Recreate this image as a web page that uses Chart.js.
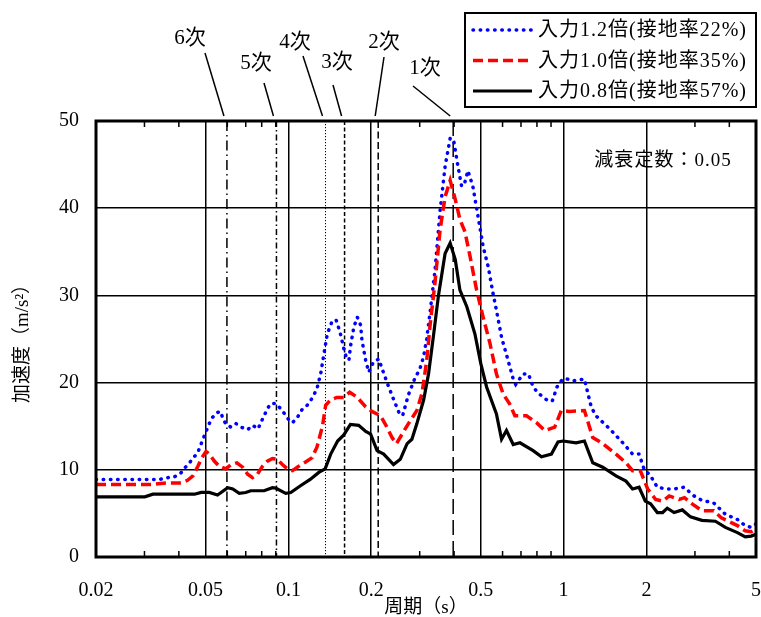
<!DOCTYPE html>
<html lang="ja">
<head>
<meta charset="utf-8">
<title>加速度応答スペクトル</title>
<script src="https://cdn.jsdelivr.net/npm/chart.js@4.4.1/dist/chart.umd.min.js"></script>
<style>
  html, body { margin: 0; padding: 0; background: #fff; }
  #wrap { width: 761px; height: 617px; }
</style>
</head>
<body>
<div id="wrap"><canvas id="spectrumChart"></canvas></div>
<script>
// 入力1.2倍
const periods12 = [0.02, 0.034, 0.0365, 0.0386, 0.0406, 0.042, 0.0437, 0.0469, 0.0489, 0.0507, 0.0524, 0.0546, 0.0566, 0.0577, 0.0593, 0.0618, 0.0645, 0.0672, 0.0711, 0.0741, 0.0776, 0.0794, 0.0816, 0.0839, 0.0863, 0.0899, 0.0932, 0.0964, 0.1, 0.1035, 0.1078, 0.1126, 0.117, 0.122, 0.127, 0.131, 0.135, 0.1385, 0.144, 0.149, 0.154, 0.159, 0.163, 0.166, 0.168, 0.173, 0.178, 0.183, 0.185, 0.191, 0.196, 0.204, 0.213, 0.219, 0.229, 0.241, 0.252, 0.26, 0.273, 0.289, 0.3, 0.31, 0.318, 0.327, 0.341, 0.356, 0.371, 0.387, 0.398, 0.41, 0.426, 0.438, 0.449, 0.468, 0.489, 0.51, 0.532, 0.552, 0.57, 0.595, 0.629, 0.656, 0.67, 0.713, 0.745, 0.775, 0.808, 0.878, 0.91, 0.946, 0.981, 1.01, 1.08, 1.19, 1.26, 1.31, 1.47, 1.64, 1.78, 1.88, 1.96, 2.07, 2.19, 2.36, 2.52, 2.74, 2.98, 3.18, 3.51, 3.87, 4.28, 4.57, 4.8, 5.0];
const acc12 = [8.9, 8.9, 9.1, 9.2, 9.6, 10.2, 10.8, 12.0, 13.5, 14.7, 15.8, 16.5, 16.7, 16.0, 15.2, 14.9, 15.3, 14.9, 14.6, 15.1, 14.7, 15.4, 16.2, 17.0, 17.6, 17.6, 17.1, 16.5, 15.8, 15.4, 16.0, 17.0, 17.4, 18.2, 19.3, 21.0, 23.5, 25.6, 27.0, 27.2, 25.8, 23.9, 22.7, 22.6, 24.1, 26.4, 27.5, 26.6, 24.9, 22.5, 21.2, 22.4, 22.7, 21.6, 19.9, 18.1, 16.6, 16.2, 18.6, 20.6, 21.5, 23.0, 25.0, 28.0, 32.9, 39.8, 44.8, 48.0, 47.9, 45.4, 42.5, 43.0, 44.3, 42.5, 39.0, 35.6, 33.3, 30.5, 28.3, 25.2, 22.5, 20.4, 19.8, 21.0, 21.0, 19.5, 18.8, 17.9, 17.9, 19.5, 20.2, 20.5, 20.2, 20.4, 17.2, 16.2, 14.7, 13.1, 11.8, 11.8, 10.1, 9.3, 8.0, 7.8, 7.8, 8.0, 7.0, 6.5, 6.2, 4.9, 4.3, 3.6, 3.4, 3.8];

// 入力1.0倍
const periods10 = [0.02, 0.0317, 0.0336, 0.0365, 0.0408, 0.043, 0.045, 0.0469, 0.0485, 0.0502, 0.0516, 0.0538, 0.0561, 0.0593, 0.0618, 0.065, 0.0682, 0.0711, 0.0741, 0.0772, 0.0805, 0.0839, 0.0875, 0.0912, 0.0951, 0.0992, 0.1035, 0.109, 0.1155, 0.122, 0.127, 0.133, 0.1366, 0.142, 0.15, 0.159, 0.167, 0.178, 0.191, 0.201, 0.216, 0.228, 0.238, 0.247, 0.259, 0.273, 0.293, 0.306, 0.318, 0.327, 0.341, 0.356, 0.371, 0.387, 0.404, 0.42, 0.438, 0.457, 0.483, 0.51, 0.54, 0.57, 0.603, 0.638, 0.665, 0.733, 0.797, 0.854, 0.928, 0.981, 1.05, 1.19, 1.276, 1.387, 1.55, 1.685, 1.78, 1.9, 2.02, 2.16, 2.29, 2.42, 2.63, 2.75, 2.93, 3.18, 3.51, 3.74, 4.28, 4.57, 4.8, 5.0];
const acc10 = [8.3, 8.3, 8.4, 8.5, 8.5, 8.8, 9.3, 10.4, 11.4, 12.1, 11.8, 11.0, 10.4, 10.1, 10.6, 10.8, 10.3, 9.5, 9.1, 9.5, 10.4, 11.0, 11.3, 11.2, 10.6, 10.1, 9.9, 10.4, 10.9, 11.4, 12.6, 15.0, 17.4, 18.0, 18.3, 18.3, 18.9, 18.3, 17.2, 16.7, 16.2, 14.9, 13.7, 13.0, 14.1, 15.3, 16.8, 18.8, 22.5, 26.5, 31.5, 37.6, 41.3, 43.2, 41.0, 38.7, 37.3, 34.5, 30.6, 27.5, 24.5, 21.0, 18.7, 17.5, 16.2, 16.2, 15.4, 14.5, 14.9, 16.8, 16.7, 16.8, 13.7, 13.0, 11.8, 10.8, 9.9, 9.9, 7.8, 6.6, 6.4, 7.0, 6.6, 6.8, 6.1, 5.3, 5.3, 4.5, 3.6, 3.0, 2.9, 3.2];

// 入力0.8倍
const periods08 = [0.02, 0.0301, 0.0322, 0.0456, 0.0482, 0.0516, 0.0553, 0.0602, 0.0628, 0.0663, 0.07, 0.073, 0.0816, 0.0875, 0.0899, 0.0978, 0.102, 0.111, 0.12, 0.129, 0.136, 0.1425, 0.151, 0.159, 0.168, 0.18, 0.191, 0.199, 0.21, 0.222, 0.241, 0.255, 0.27, 0.281, 0.293, 0.31, 0.323, 0.337, 0.351, 0.371, 0.387, 0.404, 0.42, 0.445, 0.476, 0.5, 0.525, 0.57, 0.595, 0.62, 0.656, 0.694, 0.775, 0.831, 0.903, 0.954, 0.995, 1.11, 1.19, 1.276, 1.387, 1.55, 1.685, 1.78, 1.88, 1.98, 2.07, 2.19, 2.29, 2.38, 2.52, 2.7, 2.89, 3.18, 3.56, 3.87, 4.28, 4.57, 4.8, 5.0];
const acc08 = [6.9, 6.9, 7.2, 7.2, 7.4, 7.4, 7.1, 7.95, 7.8, 7.3, 7.4, 7.6, 7.6, 7.95, 7.9, 7.3, 7.4, 8.2, 8.9, 9.7, 10.1, 11.8, 13.3, 14.0, 15.2, 15.1, 14.4, 14.1, 12.2, 11.8, 10.6, 11.2, 13.0, 13.5, 15.3, 18.0, 21.0, 25.5, 30.0, 34.8, 36.0, 34.1, 30.6, 28.7, 25.6, 22.2, 19.5, 16.4, 13.5, 14.5, 12.9, 13.1, 12.2, 11.5, 11.8, 13.2, 13.3, 13.1, 13.3, 10.8, 10.3, 9.3, 8.7, 7.8, 8.0, 6.4, 6.1, 5.1, 5.1, 5.6, 5.1, 5.4, 4.6, 4.2, 4.1, 3.4, 2.8, 2.3, 2.4, 2.6];

const seriesLabels = ["入力1.2倍(接地率22%)", "入力1.0倍(接地率35%)", "入力0.8倍(接地率57%)"];

const xTickValues = [0.02, 0.05, 0.1, 0.2, 0.5, 1, 2, 5];
const xMinorTicks = [0.03, 0.04, 0.06, 0.07, 0.08, 0.09, 0.3, 0.4, 0.6, 0.7, 0.8, 0.9, 3, 4];
const yTickValues = [0, 10, 20, 30, 40, 50];

// 固有周期
const modeNames = ["1次", "2次", "3次", "4次", "5次", "6次"];
const modePeriods = [0.397, 0.212, 0.160, 0.1364, 0.0905, 0.0598];

// line styles / label placement for the mode markers
const modeDash = [[15, 6], [7, 3.5], [4, 2.5], [1.2, 1.8], [6, 3, 1.5, 3], [10, 4, 1.5, 4]];
const modeLabelPos = [
  { tx: 425, ty: 68, lx: 413, ly: 86 },
  { tx: 384, ty: 42, lx: 384, ly: 57 },
  { tx: 337, ty: 62, lx: 333, ly: 85 },
  { tx: 295, ty: 42, lx: 303, ly: 56 },
  { tx: 256, ty: 63, lx: 264, ly: 83 },
  { tx: 190, ty: 38, lx: 205, ly: 53 }
];

const FONT = '"Liberation Serif", "Noto Sans CJK JP", serif';

function toPoints(xs, ys) {
  return xs.map((x, i) => ({ x: x, y: ys[i] }));
}

const extras = {
  id: "extras",
  beforeDatasetsDraw(chart) {
    const { ctx, chartArea, scales } = chart;
    ctx.save();
    ctx.strokeStyle = "#000";
    modePeriods.forEach((p, i) => {
      const x = scales.x.getPixelForValue(p);
      ctx.setLineDash(modeDash[i]);
      ctx.lineWidth = i === 3 ? 1 : 1.5;
      ctx.beginPath();
      ctx.moveTo(x, chartArea.top);
      ctx.lineTo(x, chartArea.bottom);
      ctx.stroke();
    });
    ctx.restore();
  },
  afterDraw(chart) {
    const { ctx, chartArea, scales } = chart;
    const { left, right, top, bottom } = chartArea;
    ctx.save();
    ctx.strokeStyle = "#000";
    ctx.setLineDash([]);

    // minor ticks (inward, top and bottom)
    ctx.lineWidth = 1.5;
    xMinorTicks.forEach((v) => {
      const x = scales.x.getPixelForValue(v);
      ctx.beginPath();
      ctx.moveTo(x, top);
      ctx.lineTo(x, top + 6);
      ctx.moveTo(x, bottom);
      ctx.lineTo(x, bottom - 6);
      ctx.stroke();
    });

    // frame
    ctx.lineWidth = 3;
    ctx.strokeRect(left, top, right - left, bottom - top);

    // mode labels and leaders
    ctx.fillStyle = "#000";
    ctx.font = "21px " + FONT;
    ctx.textAlign = "center";
    ctx.textBaseline = "middle";
    ctx.lineWidth = 1.5;
    modeNames.forEach((name, i) => {
      const pos = modeLabelPos[i];
      const x = scales.x.getPixelForValue(modePeriods[i]);
      ctx.fillText(name, pos.tx, pos.ty);
      ctx.beginPath();
      ctx.moveTo(pos.lx, pos.ly);
      ctx.lineTo(x - 3, top - 5);
      ctx.stroke();
    });

    // damping note
    ctx.font = "19px " + FONT;
    ctx.letterSpacing = "1px";
    ctx.fillText("減衰定数：0.05", right - 93, top + 40);

    // legend
    const bx = 465, by = 13, bw = 291, bh = 94;
    ctx.fillStyle = "#fff";
    ctx.fillRect(bx, by, bw, bh);
    ctx.lineWidth = 2;
    ctx.strokeRect(bx, by, bw, bh);
    ctx.textAlign = "left";
    ctx.font = "20px " + FONT;
    chart.data.datasets.forEach((ds, i) => {
      const y = by + 17 + i * 30.5;
      ctx.strokeStyle = ds.borderColor;
      ctx.lineWidth = ds.borderWidth;
      ctx.lineCap = ds.borderCapStyle || "butt";
      ctx.setLineDash(ds.borderDash || []);
      ctx.beginPath();
      ctx.moveTo(bx + 8, y);
      ctx.lineTo(bx + 67, y);
      ctx.stroke();
      ctx.fillStyle = "#000";
      ctx.fillText(ds.label, bx + 73, y + 1);
    });
    ctx.restore();
  }
};

const ctxSpec = document.getElementById("spectrumChart").getContext("2d");

new Chart(ctxSpec, {
  type: "line",
  data: {
    datasets: [
      {
        label: seriesLabels[0],
        data: toPoints(periods12, acc12),
        borderColor: "#0000ff",
        borderWidth: 3.5,
        borderDash: [0.5, 6.7],
        borderCapStyle: "round",
        order: 2
      },
      {
        label: seriesLabels[1],
        data: toPoints(periods10, acc10),
        borderColor: "#ff0000",
        borderWidth: 3.5,
        borderDash: [10, 5],
        order: 1
      },
      {
        label: seriesLabels[2],
        data: toPoints(periods08, acc08),
        borderColor: "#000000",
        borderWidth: 3.2,
        order: 0
      }
    ]
  },
  options: {
    responsive: true,
    maintainAspectRatio: false,
    animation: false,
    devicePixelRatio: 1,
    elements: {
      point: { radius: 0 },
      line: { tension: 0, fill: false }
    },
    layout: { padding: { top: 121, right: 5, left: 0, bottom: 0 } },
    plugins: {
      legend: { display: false },
      tooltip: { enabled: false }
    },
    scales: {
      x: {
        type: "logarithmic",
        min: 0.02,
        max: 5,
        border: { display: false },
        grid: { color: "#000", lineWidth: 1.5, drawTicks: false },
        afterBuildTicks: (scale) => {
          scale.ticks = xTickValues.map((v) => ({ value: v }));
        },
        afterFit: (scale) => {
          scale.height = 60;
          scale.paddingLeft = 0;
          scale.paddingRight = 0;
        },
        ticks: {
          autoSkip: false,
          maxRotation: 0,
          padding: 22,
          color: "#000",
          font: { family: FONT, size: 20 },
          callback: (v) => String(v)
        },
        title: {
          display: true,
          text: "周期（s）",
          color: "#000",
          font: { family: FONT, size: 19 },
          padding: { top: 0, bottom: -2 }
        }
      },
      y: {
        min: 0,
        max: 50,
        border: { display: false },
        grid: { color: "#000", lineWidth: 1.5, drawTicks: false },
        afterBuildTicks: (scale) => {
          scale.ticks = yTickValues.map((v) => ({ value: v }));
        },
        afterFit: (scale) => { scale.width = 96; },
        ticks: {
          padding: 17,
          color: "#000",
          font: { family: FONT, size: 20 }
        },
        title: {
          display: true,
          text: "加速度（m/s²）",
          color: "#000",
          font: { family: FONT, size: 19 },
          padding: { top: 12, bottom: 0 }
        }
      }
    }
  },
  plugins: [extras]
});
</script>
</body>
</html>
